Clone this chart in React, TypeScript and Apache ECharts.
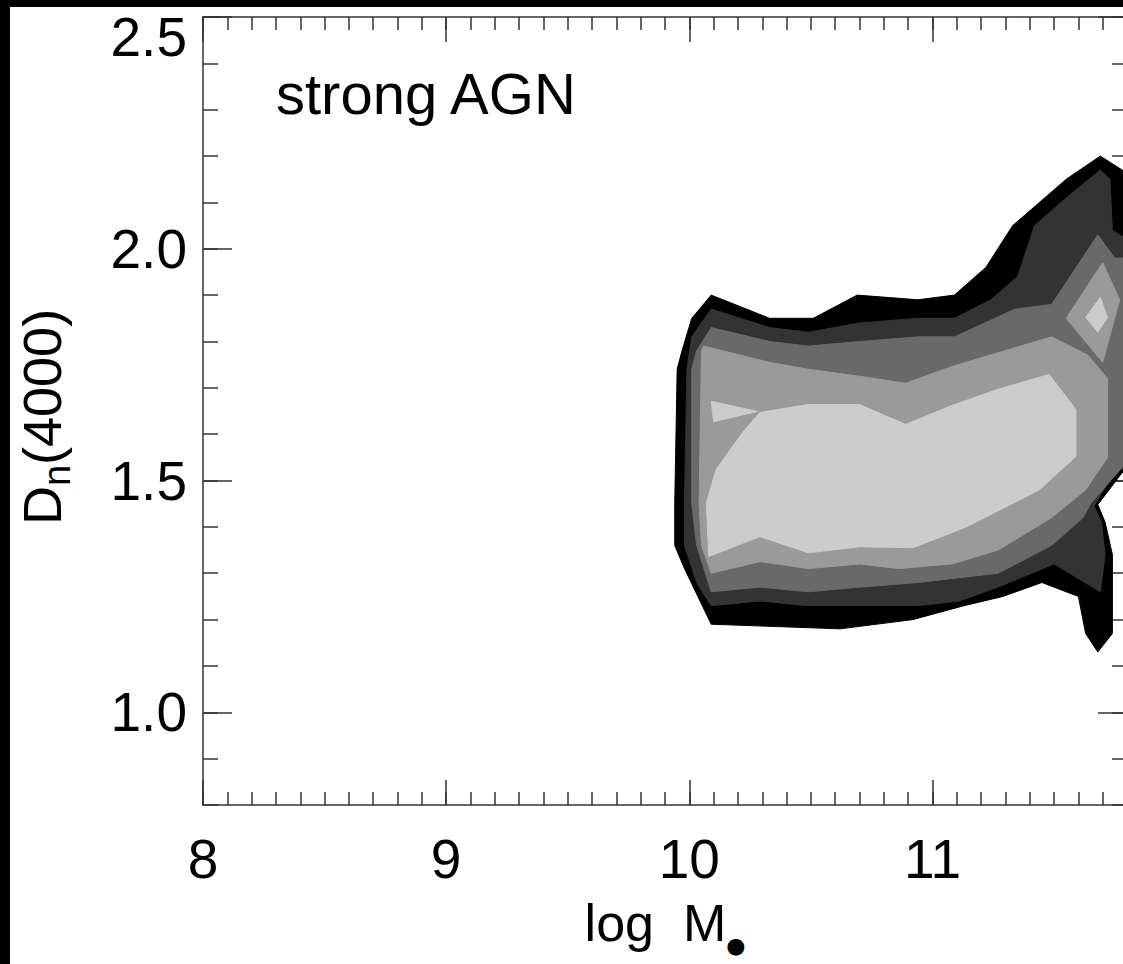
import React, { useEffect, useRef } from 'react';
import * as echarts from 'echarts';

const X_MIN = 8;
const X_MAX = 11.8;
const Y_MIN = 0.8;
const Y_MAX = 2.5;
const xMajorTicks = [8, 9, 10, 11];
const yMajorTicks = [1.0, 1.5, 2.0, 2.5];
const levelColors = ['#000000', '#333333', '#696969', '#9a9a9a', '#cccccc'];
const panelLabel = 'strong AGN';
const xTitle = '{a|log  M}{d|●}';
const yTitle = '{a|D}{s|n}{a|(4000)}';

// contour level 1 (outermost, black)
const level1 = [
  [10.09, 1.9], [10.33, 1.85], [10.51, 1.85], [10.69, 1.9], [10.94, 1.89], [11.09, 1.9],
  [11.22, 1.96], [11.33, 2.05], [11.55, 2.15], [11.69, 2.2], [11.78, 2.17], [11.8, 2.16],
  [11.8, 1.52], [11.78, 1.517], [11.68, 1.448], [11.71, 1.41], [11.74, 1.34], [11.74, 1.17],
  [11.68, 1.13], [11.63, 1.17], [11.6, 1.25], [11.45, 1.28], [11.29, 1.25], [11.13, 1.23],
  [10.92, 1.2], [10.62, 1.18], [10.09, 1.19], [9.98, 1.31], [9.94, 1.36], [9.94, 1.45],
  [9.95, 1.74], [9.97, 1.78], [10.01, 1.85],
];
// contour level 2
const level2 = [
  [10.09, 1.87], [10.33, 1.83], [10.49, 1.82], [10.7, 1.84], [10.94, 1.85], [11.09, 1.85],
  [11.24, 1.89], [11.35, 1.94], [11.42, 2.05], [11.55, 2.11], [11.69, 2.17], [11.73, 2.15],
  [11.74, 2.04], [11.8, 2.02], [11.8, 1.53], [11.75, 1.52], [11.665, 1.445], [11.695, 1.41],
  [11.71, 1.34], [11.69, 1.26], [11.5, 1.32], [11.27, 1.27], [11.11, 1.24], [10.94, 1.23],
  [10.7, 1.23], [10.49, 1.23], [10.29, 1.24], [10.09, 1.23], [10.03, 1.28], [9.98, 1.36],
  [9.98, 1.45], [9.99, 1.74], [10.01, 1.81],
];
// contour level 3
const level3 = [
  [10.09, 1.83], [10.33, 1.8], [10.49, 1.79], [10.7, 1.8], [10.94, 1.81], [11.09, 1.81],
  [11.34, 1.87], [11.49, 1.88], [11.68, 2.03], [11.75, 1.98], [11.8, 1.98], [11.8, 1.54],
  [11.65, 1.45], [11.62, 1.42], [11.49, 1.36], [11.27, 1.3], [10.94, 1.28], [10.7, 1.27],
  [10.49, 1.26], [10.29, 1.27], [10.09, 1.26], [10.03, 1.36], [10.01, 1.45], [10.01, 1.74],
  [10.03, 1.78],
];
// contour level 4
const level4Main = [
  [10.06, 1.79], [10.33, 1.755], [10.49, 1.74], [10.7, 1.725], [10.89, 1.71], [11.08, 1.746],
  [11.49, 1.81], [11.64, 1.77], [11.72, 1.72], [11.72, 1.55], [11.63, 1.48], [11.49, 1.42],
  [11.27, 1.35], [11.08, 1.32], [10.86, 1.31], [10.7, 1.32], [10.49, 1.31], [10.29, 1.325],
  [10.09, 1.3], [10.05, 1.36], [10.04, 1.45], [10.05, 1.78],
];
const level4Diamond = [[11.55, 1.85], [11.7, 1.97], [11.77, 1.89], [11.7, 1.755]];
// contour level 5 (innermost)
const level5Main = [
  [10.29, 1.647], [10.49, 1.664], [10.7, 1.664], [10.89, 1.621], [11.07, 1.66], [11.27, 1.697],
  [11.48, 1.729], [11.59, 1.653], [11.59, 1.552], [11.44, 1.48], [11.14, 1.4], [10.92, 1.355],
  [10.7, 1.357], [10.49, 1.344], [10.29, 1.379], [10.08, 1.336], [10.07, 1.452], [10.11, 1.524],
  [10.22, 1.604],
];
const level5Triangle = [[10.09, 1.671], [10.28, 1.649], [10.1, 1.627]];
const level5Diamond = [[11.63, 1.852], [11.69, 1.895], [11.72, 1.852], [11.68, 1.82]];

const FONT = 'Liberation Sans';

export default function App() {
  const ref = useRef<HTMLDivElement>(null);

  useEffect(() => {
    document.body.style.margin = '0';
    document.body.style.overflow = 'hidden';
    const chart = echarts.init(ref.current as HTMLDivElement, null, { renderer: 'svg' });

    const polys: [number[][], string][] = [
      [level1, levelColors[0]],
      [level2, levelColors[1]],
      [level3, levelColors[2]],
      [level4Main, levelColors[3]],
      [level4Diamond, levelColors[3]],
      [level5Main, levelColors[4]],
      [level5Triangle, levelColors[4]],
      [level5Diamond, levelColors[4]],
    ];

    const series = polys.map(([pts, color]) => ({
      type: 'custom',
      coordinateSystem: 'cartesian2d',
      xAxisIndex: 0,
      yAxisIndex: 0,
      clip: true,
      silent: true,
      data: pts,
      renderItem: (params: any, api: any) => {
        if (params.dataIndex !== 0) return null;
        const points = pts.map((p) => api.coord(p));
        return {
          type: 'polygon',
          shape: { points },
          style: { fill: color, stroke: color, lineWidth: 1 },
        };
      },
    }));

    const lineStyle = { color: '#333333', width: 1.5 };
    const hidden = { show: false };

    const xBase = { type: 'value', min: X_MIN, max: X_MAX, splitLine: hidden };
    const yBase = { type: 'value', min: Y_MIN, max: Y_MAX, splitLine: hidden };

    const option: any = {
      animation: false,
      backgroundColor: '#ffffff',
      textStyle: { fontFamily: FONT },
      grid: {
        left: 203,
        right: 13,
        top: 17,
        bottom: 159,
        containLabel: false,
        outerBoundsMode: 'none',
      },
      xAxis: [
        {
          ...xBase,
          position: 'bottom',
          axisLine: { show: true, onZero: false, lineStyle },
          axisTick: { show: true, inside: true, length: 25, customValues: xMajorTicks, lineStyle },
          axisLabel: {
            show: true,
            customValues: xMajorTicks,
            fontSize: 55,
            fontFamily: FONT,
            color: '#000',
            margin: 26,
            formatter: (v: number) => String(Math.round(v)),
          },
          name: xTitle,
          nameLocation: 'middle',
          nameGap: 85,
          nameTextStyle: {
            color: '#000',
            fontFamily: FONT,
            fontSize: 52,
            rich: {
              a: { fontSize: 52, fontFamily: FONT, color: '#000' },
              d: { fontSize: 22, fontFamily: 'DejaVu Sans', color: '#000', padding: [44, 0, 0, 0] },
            },
          },
        },
        {
          ...xBase,
          position: 'bottom',
          interval: 0.1,
          axisLine: { show: false, onZero: false },
          axisTick: { show: true, inside: true, length: 13, lineStyle },
          axisLabel: hidden,
        },
        {
          ...xBase,
          position: 'top',
          axisLine: { show: true, onZero: false, lineStyle },
          axisTick: { show: true, inside: true, length: 25, customValues: xMajorTicks, lineStyle },
          axisLabel: hidden,
        },
        {
          ...xBase,
          position: 'top',
          interval: 0.1,
          axisLine: { show: false, onZero: false },
          axisTick: { show: true, inside: true, length: 13, lineStyle },
          axisLabel: hidden,
        },
      ],
      yAxis: [
        {
          ...yBase,
          position: 'left',
          axisLine: { show: true, onZero: false, lineStyle },
          axisTick: { show: true, inside: true, length: 29, customValues: yMajorTicks, lineStyle },
          axisLabel: {
            show: true,
            customValues: yMajorTicks,
            margin: 16,
            formatter: (v: number) => {
              const s = v.toFixed(1);
              return v > 2.45 ? `{t|${s}}` : `{n|${s}}`;
            },
            rich: {
              n: { fontSize: 55, fontFamily: FONT, color: '#000' },
              t: { fontSize: 55, fontFamily: FONT, color: '#000', padding: [40, 0, 0, 0] },
            },
          },
          name: yTitle,
          nameLocation: 'middle',
          nameGap: 127,
          nameTextStyle: {
            color: '#000',
            fontFamily: FONT,
            fontSize: 53,
            padding: [0, 12, 0, 0],
            rich: {
              a: { fontSize: 54, fontFamily: FONT, color: '#000' },
              s: { fontSize: 38, fontFamily: FONT, color: '#000', padding: [30, 0, 0, 0] },
            },
          },
        },
        {
          ...yBase,
          position: 'left',
          interval: 0.1,
          axisLine: { show: false, onZero: false },
          axisTick: { show: true, inside: true, length: 15, lineStyle },
          axisLabel: hidden,
        },
        {
          ...yBase,
          position: 'right',
          axisLine: { show: true, onZero: false, lineStyle },
          axisTick: { show: true, inside: true, length: 29, customValues: yMajorTicks, lineStyle },
          axisLabel: hidden,
        },
        {
          ...yBase,
          position: 'right',
          interval: 0.1,
          axisLine: { show: false, onZero: false },
          axisTick: { show: true, inside: true, length: 15, lineStyle },
          axisLabel: hidden,
        },
      ],
      graphic: [
        { type: 'rect', silent: true, z: 100, shape: { x: 0, y: 0, width: 10, height: 964 }, style: { fill: '#000' } },
        { type: 'rect', silent: true, z: 100, shape: { x: 0, y: 0, width: 1140, height: 7 }, style: { fill: '#000' } },
        {
          type: 'text',
          silent: true,
          z: 100,
          x: 276,
          y: 93,
          style: {
            text: panelLabel,
            fill: '#000',
            fontSize: 58,
            fontFamily: FONT,
            verticalAlign: 'middle',
            align: 'left',
          },
        },
      ],
      series,
    };

    chart.setOption(option);
    return () => chart.dispose();
  }, []);

  return (
    <div
      ref={ref}
      style={{ position: 'fixed', left: 0, top: 0, width: 1140, height: 964, background: '#fff' }}
    />
  );
}
